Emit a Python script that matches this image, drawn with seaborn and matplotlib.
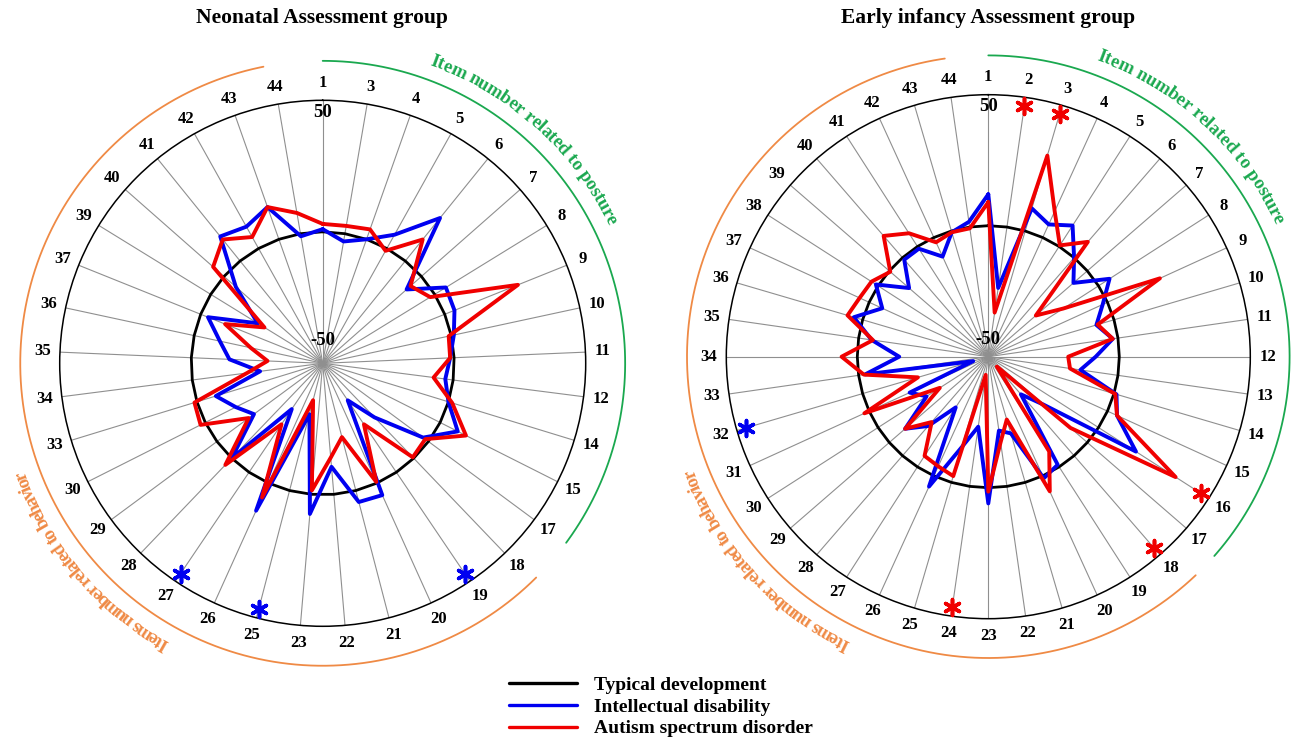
import numpy as np
import pandas as pd
import matplotlib
matplotlib.use('Agg')
import matplotlib.pyplot as plt
import seaborn as sns
from matplotlib.lines import Line2D
from matplotlib.font_manager import FontProperties

sns.set_style('white')
plt.rcParams['font.family'] = ['Liberation Serif', 'DejaVu Serif']
plt.rcParams['font.weight'] = 'bold'
plt.rcParams['text.color'] = 'black'
plt.rcParams['xtick.color'] = 'black'

# ---- data (z-scores per item) ----
items_left = [1, 3, 4, 5, 6, 7, 8, 9, 10, 11, 12, 14, 15, 17, 18, 19, 20, 21, 22, 23,
              25, 26, 27, 28, 29, 30, 33, 34, 35, 36, 37, 39, 40, 41, 42, 43, 44]
td_left = [0, 0, 0, 0, 0, 0, 0, 0, 0, 0, 0, 0, 0, 0, 0, 0, 0, 0, 0, 0,
           0, 0, 0, 0, 0, 0, 0, 0, 0, 0, 0, 0, 0, 0, 0, 0, 0]
id_left = [1, -3, 0, 6, 21, -7.5, 5, 4, 1, -1.5, -3, 0, 7.5, -2.5, -21.5, -33, 5, 4.5, -10.5, 7.5,
           -30, 11.5, -29, 0, -17.5, -13, -7.5, -26, -14.5, -10, -3, -21, -6, 12, 9.5, 13, -1]
asd_left = [3, 3, 4, -1, 10.5, -5.5, -2, 30, -1, -1.5, -7.5, 1.5, 11, -1.5, -0.5, -22, -0.5, -21, -14, -1.5,
            -35.5, 6, -22, 3.5, -15, 2, 1, -21, -29, -22, -10, -24, 5.5, 10.5, 5, 13, 8]
sig_left_id = [19, 25, 27]
sig_left_asd = []

items_right = [1, 2, 3, 4, 5, 6, 7, 8, 9, 10, 11, 12, 13, 14, 15, 16, 17, 18, 19, 20, 21, 22,
               23, 24, 25, 26, 27, 28, 29, 30, 31, 32, 33, 34, 35, 36, 37, 38, 39, 40, 41, 42, 43, 44]
td_right = [0, 0, 0, 0, 0, 0, 0, 0, 0, 0, 0, 0, 0, 0, 0, 0, 0, 0, 0, 0, 0, 0,
            0, 0, 0, 0, 0, 0, 0, 0, 0, 0, 0, 0, 0, 0, 0, 0, 0, 0, 0, 0, 0, 0]
id_right = [12, -23.5, 9, 5.5, 9.5, 0, -7, 5, -2, -7, -2, -9, -14.5, 1, 4, 17, -22, -31, -1, 1, -19.5, -21.5,
            6, -23, -14, 4.5, -27, -15, -8, -22, -17, -44, -2.5, -16, -5, 3.5, -5.5, 1, -10, -1, -1, -8, -0.5, 2]
asd_right = [9, -33, 30, 11, 0.5, 8, -26, -16, 22, -6.5, -2, -19.5, -18.5, 0.5, 4, 35, -8.5, -45, -7, 6.5, -25, -17,
             1.5, -43, -2.5, -4, -5, -17, -8, -28, 2, -22, -2, 6, -5.5, 6, 4, 3, -0.5, 11, 6, -2, -0.5, -0.5]
sig_right_id = [32]
sig_right_asd = [2, 3, 16, 18, 24]

groups = ['Typical development', 'Intellectual disability', 'Autism spectrum disorder']
colors = {'Typical development': 'black', 'Intellectual disability': '#0000f0',
          'Autism spectrum disorder': '#f00000'}
widths = {'Typical development': 2.0, 'Intellectual disability': 2.8, 'Autism spectrum disorder': 2.8}

GREEN = '#1aa84f'
ORANGE = '#ef8a45'
bold = FontProperties(family='Liberation Serif', weight='bold', size=12)


def arc_text(ax, s, a0, a1, r, color, size):
    # characters along a circle, tops pointing outwards, reading clockwise
    fp = FontProperties(family='Liberation Serif', weight='bold', size=size)
    rend = ax.figure.canvas.get_renderer()
    ws = []
    for ch in s:
        t = ax.figure.text(0, 0, 'n' if ch == ' ' else ch, fontproperties=fp)
        w = t.get_window_extent(rend).width
        t.remove()
        ws.append(w * 0.45 if ch == ' ' else w)
    ws = np.array(ws)
    cen = np.cumsum(ws) - ws / 2
    frac = (cen - cen[0]) / (cen[-1] - cen[0])
    for ch, f in zip(s, frac):
        a = a0 + f * (a1 - a0)
        ax.text(np.radians(a), r, ch, rotation=-a, rotation_mode='anchor', ha='center',
                va='baseline', color=color, fontproperties=fp, clip_on=False)


def radar(ax, items, series, sig, arcs):
    n = len(items)
    theta = np.linspace(0, 2 * np.pi, n, endpoint=False)
    ax.set_theta_zero_location('N')
    ax.set_theta_direction(-1)

    for g in groups:
        vals = list(series[g])
        df = pd.DataFrame({'theta': np.append(theta, 2 * np.pi), 'value': vals + vals[:1]})
        sns.lineplot(data=df, x='theta', y='value', sort=False, estimator=None, color=colors[g],
                     linewidth=widths[g], ax=ax)

    # significance marks
    for g, lst in sig.items():
        if not lst:
            continue
        th = [theta[items.index(k)] for k in lst]
        ax.scatter(th, [46.5] * len(th), marker=(6, 2, 0), s=130, color=colors[g],
                   linewidths=2.6, zorder=5, clip_on=False)

    ax.set_autoscale_on(False)
    ax.set_ylim(-50, 50)
    ax.set_yticks([])
    ax.set_xticks(theta)
    ax.set_xticklabels([str(i) for i in items], fontproperties=bold)
    ax.tick_params(axis='x', pad=2)
    ax.grid(axis='x', color='#8f8f8f', linewidth=0.8, linestyle='-')
    ax.spines['polar'].set_color('black')
    ax.spines['polar'].set_linewidth(1.1)
    ax.set_xlabel('')
    ax.set_ylabel('')

    ax.text(0, 45.5, '50', ha='center', va='center', fontsize=13.5, fontweight='bold', color='black')
    ax.text(0, arcs['lo'], '-50', ha='center', va='center', fontsize=13.5, fontweight='bold', color='black')

    g0, g1 = arcs['green']
    o0, o1 = arcs['orange']
    t = np.radians(np.linspace(g0, g1, 200))
    ax.plot(t, [65] * len(t), color=GREEN, linewidth=1.3, clip_on=False)
    t = np.radians(np.linspace(o0, o1, 300))
    ax.plot(t, [65] * len(t), color=ORANGE, linewidth=1.3, clip_on=False)
    ax.set_ylim(-50, 50)

    arc_text(ax, 'Item number related to posture', arcs['gt'][0], arcs['gt'][1], 70.5, GREEN, 13.5)
    arc_text(ax, 'Items number related to behavior', arcs['ot'][0], arcs['ot'][1], 70.5, ORANGE, 13.5)


fig = plt.figure(figsize=(12.98, 7.39), dpi=100)
W, H = 1298, 739
axL = fig.add_axes([(322.7 - 263) / W, (H - 363.3 - 263) / H, 526 / W, 526 / H], projection='polar')
axR = fig.add_axes([(988.3 - 262) / W, (H - 356.7 - 262) / H, 524 / W, 524 / H], projection='polar')

radar(axL, items_left,
      {'Typical development': td_left, 'Intellectual disability': id_left, 'Autism spectrum disorder': asd_left},
      {'Intellectual disability': sig_left_id, 'Autism spectrum disorder': sig_left_asd},
      {'lo': -41.3, 'green': (0, 126.4), 'orange': (135.1, 348.7), 'gt': (20.3, 63.5), 'ot': (209.6, 249.6)})
radar(axR, items_right,
      {'Typical development': td_right, 'Intellectual disability': id_right, 'Autism spectrum disorder': asd_right},
      {'Intellectual disability': sig_right_id, 'Autism spectrum disorder': sig_right_asd},
      {'lo': -43.6, 'green': (0, 131.4), 'orange': (136.5, 351.7), 'gt': (20.6, 64.6), 'ot': (206.6, 248.5)})

fig.text(322 / W, 1 - 18 / H, 'Neonatal Assessment group', ha='center', va='center',
         fontsize=15.5, fontweight='bold')
fig.text(988 / W, 1 - 18 / H, 'Early infancy Assessment group', ha='center', va='center',
         fontsize=15.5, fontweight='bold')

handles = [Line2D([], [], color=colors[g], linewidth=2.4) for g in groups]
fig.legend(handles, groups, loc='upper left', bbox_to_anchor=(509 / W, 1 - 676 / H), frameon=False,
           prop=FontProperties(family='Liberation Serif', weight='bold', size=14),
           handlelength=3.5, handletextpad=0.85, labelspacing=0.22, borderaxespad=0, borderpad=0)

fig.savefig('out.png', dpi=100)
